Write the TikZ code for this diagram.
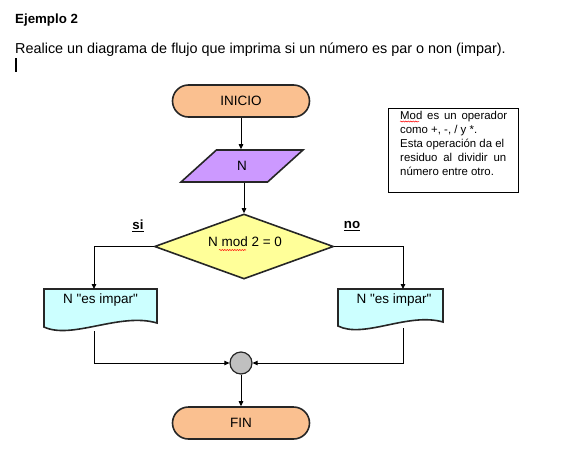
\documentclass[tikz,border=0pt]{standalone}
\usepackage{fontspec}
\setmainfont{Liberation Sans}[Ligatures=TeXOff]
\usetikzlibrary{shapes.geometric,arrows.meta,decorations.pathmorphing,calc}
\definecolor{peach}{HTML}{FAC090}
\definecolor{lilac}{HTML}{CC99FF}
\definecolor{paleyellow}{HTML}{FFFF99}
\definecolor{palecyan}{HTML}{CCFFFF}
\definecolor{mergegray}{HTML}{C0C0C0}
\begin{document}
\begin{tikzpicture}[x=1pt,y=-1pt,
  txt/.style={font=\fontsize{13.5}{16}\selectfont, inner sep=0pt},
  shapeline/.style={draw=black!85, line width=1.6pt},
  terminal/.style={shapeline, fill=peach, rectangle, rounded corners=16pt, minimum width=137pt, minimum height=32pt, txt},
  inputbox/.style={shapeline, fill=lilac, trapezium, trapezium left angle=54, trapezium right angle=126, trapezium stretches=true, minimum width=122pt, minimum height=32pt, txt},
  decisionbox/.style={shapeline, fill=paleyellow, diamond, minimum width=179pt, minimum height=65pt, txt},
  doctext/.style={rectangle, minimum height=22pt, txt},
  docshape/.style={shapeline, fill=palecyan},
  mergept/.style={circle, shapeline, line width=1.2pt, fill=mergegray, minimum size=22pt, inner sep=0pt},
  conn/.style={draw=black, line width=0.9pt},
  arr/.style={conn, -{Triangle[length=5pt,width=4.5pt]}},
  spell/.style={red, line width=0.5pt, decorate, decoration={snake, amplitude=0.6pt, segment length=2.5pt}},
  branchlabel/.style={font=\fontsize{13.3}{16}\selectfont\bfseries, inner sep=0pt}
]
\useasboundingbox (0,0) rectangle (567,461);

% header texts
\node[txt, font=\fontsize{13.3}{16}\selectfont\bfseries, anchor=base west] (title) at (15,23) {Ejemplo 2};
\node[txt, font=\fontsize{14.4}{16}\selectfont, anchor=base west] (task) at (15,53) {Realice un diagrama de flujo que imprima si un número es par o non (impar).};
\draw[line width=2pt] (16,58) -- (16,72);

% flowchart
\node[terminal] (ini) at (241,101) {INICIO};
\node[inputbox] (n) at (242,166) {N};
\node[decisionbox] (d) at (244,246.5) {};
\node[txt] (dtext) at (245,242) {N mod 2 = 0};
\draw[spell] (219,250) -- (246,250);

% left document
\draw[docshape] (44,289) -- (157,289) -- (157,323) .. controls (120,312) and (72,340) .. (44,327) -- cycle;
\node[doctext] (l1) at (100.5,300) {N "es impar"};
\coordinate (l1in) at (94,289);
\coordinate (l1out) at (94,331);

% right document
\draw[docshape] (338,289) -- (443,289) -- (443,322) .. controls (408,312) and (364,339) .. (338,326) -- cycle;
\node[doctext] (r1) at (394,300) {N "es impar"};
\coordinate (r1in) at (403,289);
\coordinate (r1out) at (403,328);

\node[mergept] (m) at (241,363) {};
\node[terminal] (fin) at (241,423) {FIN};

% branch labels
\node[branchlabel] (si) at (138,226) {\underline{si}};
\node[branchlabel] (no) at (352,226) {\underline{no}};

% connectors
\draw[arr] (ini.south) -- (n.north -| ini.south);
\draw[arr] (n.south -| d.north) -- (d.north);
\draw[arr] (d.west) -| (l1in);
\draw[arr] (d.east) -| (r1in);
\draw[arr] (l1out) |- (m.west);
\draw[arr] (r1out) |- (m.east);
\draw[arr] (m.south) -- (fin.north);

% note
\node[draw=black, line width=0.8pt, rectangle, minimum width=130pt, minimum height=84pt, anchor=north west] (note) at (388,108) {};
\node[anchor=north west, inner sep=0pt, align=left, font=\fontsize{11.4}{14}\selectfont] (notetext) at (400,111)
{\makebox[107pt][s]{Mod es un operador}\\
como +, -, / y *.\\
\makebox[104pt][s]{Esta operación da el}\\
\makebox[106pt][s]{residuo al dividir un}\\
número entre otro.};
\draw[spell] (400,121.5) -- (419,121.5);
\end{tikzpicture}
\end{document}
